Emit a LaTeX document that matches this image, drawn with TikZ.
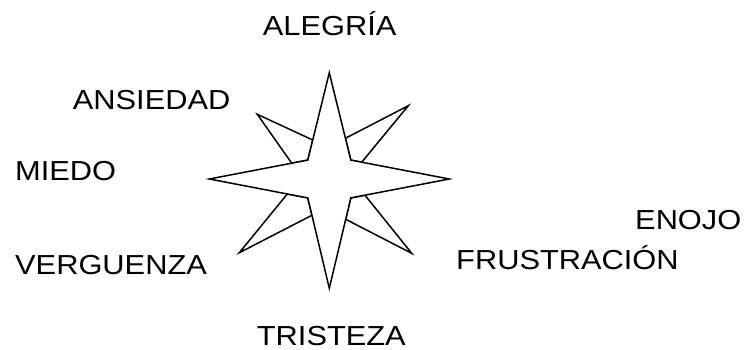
\documentclass[tikz,border=0pt]{standalone}
\usepackage{fontspec}
\setmainfont{Liberation Sans}
\usepackage{graphicx}

\newcommand{\wide}[1]{\scalebox{1.12}[1]{#1}}

\tikzset{
  emo/.style={anchor=base west, inner sep=0pt, font=\fontsize{27.5}{30}\selectfont},
  rosa/.style={draw, fill=white, line width=1.5pt, line join=miter}
}

\begin{document}
\begin{tikzpicture}[x=1pt,y=-1pt]
    \useasboundingbox (0,0) rectangle (746,350);

    % diagonal points, behind
    \draw[rosa] (257.3,114.3) -- (312.7,140) -- (307.8,160.1) -- (291.7,163.2) -- cycle;
    \draw[rosa] (408.3,105.7) -- (345.4,138.3) -- (350.8,160.1) -- (361.7,162.2) -- cycle;
    \draw[rosa] (239.3,252.7) -- (287.3,194.0) -- (307.8,197.9) -- (311.9,215.3) -- cycle;
    \draw[rosa] (411.7,253.3) -- (365,195.2) -- (350.8,197.9) -- (345.7,219.3) -- cycle;

    % main star
    \draw[rosa] (329.3,72.7) -- (350.8,160.1) -- (449.3,179) -- (350.8,197.9)
        -- (329.3,288.3) -- (307.8,197.9) -- (209.3,179) -- (307.8,160.1) -- cycle;

    \node (alegria) [emo, at={(262.7,36)}] {\wide{ALEGRÍA}};
    \node (ansiedad) [emo, at={(72.7,109.3)}] {\wide{ANSIEDAD}};
    \node (miedo) [emo, at={(15,180)}] {\wide{MIEDO}};
    \node (verguenza) [emo, at={(15,274.3)}] {\wide{VERGUENZA}};
    \node (enojo) [emo, at={(635,229.3)}] {\wide{ENOJO}};
    \node (frustracion) [emo, at={(456,269)}] {\wide{FRUSTRACIÓN}};
    \node (tristeza) [emo, at={(256.7,345)}] {\wide{TRISTEZA}};
\end{tikzpicture}
\end{document}
